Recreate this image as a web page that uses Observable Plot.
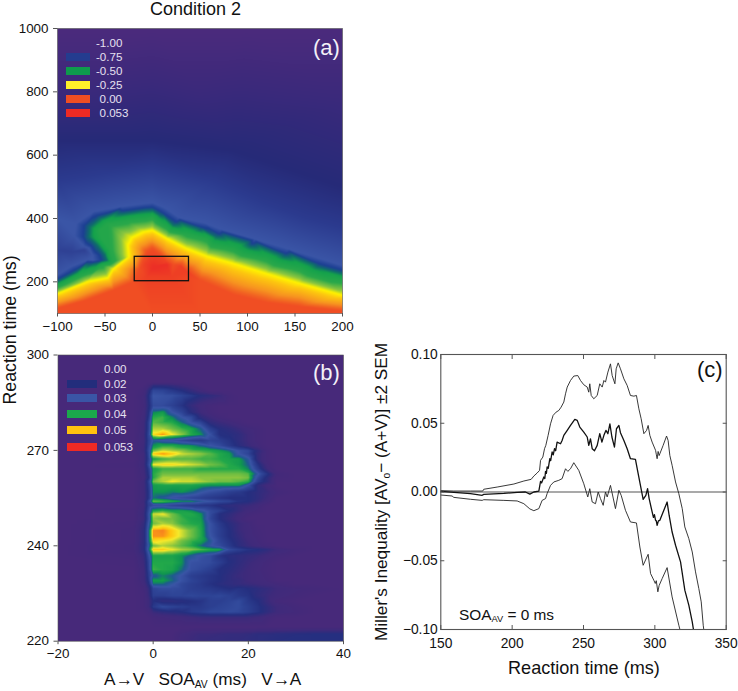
<!DOCTYPE html>
<html><head><meta charset="utf-8">
<script src="https://cdn.jsdelivr.net/npm/d3@7"></script>
<script src="https://cdn.jsdelivr.net/npm/@observablehq/plot@0.6"></script>
<style>
html,body{margin:0;padding:0;background:#fff}
#root{position:relative;width:738px;height:691px;overflow:hidden;font-family:"Liberation Sans",Arial,sans-serif;color:#111}
#root svg{position:absolute;background:transparent}
#root svg image{filter:blur(.5px)}
.t{position:absolute;white-space:nowrap;line-height:1}
.p{position:absolute;filter:blur(.4px)}
sub{font-size:60%;line-height:0;vertical-align:-0.25em}
</style></head><body><div id="root"></div>
<script>
// ---------- Panel (a): iso-value lines, [SOA ms, RT ms]
const aLevelM100 = [[-100,1000],[0,1000],[100,1000],[200,1000]];
const aLevelM096 = [[-100,790],[50,790],[200,770]];
const aLevelM092 = [[-100,647],[0,647],[85,615],[200,500]];
const aLevelM086 = [[-100,521],[-50,545],[0,563],[64,521],[120,447],[160,405],[200,373]];
const aLevelM084 = [[-100,300],[-85,295],[-72,300]];
const aLevelM078 = [[-100,222],[-86,248],[-68,270],[-62,268],[-63,284],[-72,312],[-82,345],[-80,385],[-62,422],[-33,438],[-9,447],[0,450],[14,432],[28,403],[55,386],[72,366],[108,335],[143,304],[178,272],[200,252],[-100,400]];
const aLevelM074 = [[-100,209],[-82,238],[-63,262],[-54,268],[-56,284],[-64,312],[-73,342],[-72,378],[-58,410],[-31,425],[-9,434],[0,436],[11,418],[25,390],[52,373],[70,352],[105,321],[140,290],[175,258],[200,237]];
const aLevelM068 = [[-100,200],[-80,231],[-58,258],[-48,268],[-50,284],[-58,315],[-67,342],[-66,373],[-55,400],[-30,415],[-9,424],[0,426],[8,410],[22,379],[50,363],[67,342],[103,310],[138,279],[173,247],[200,226]];
const aLevelM050 = [[-100,186],[-76,221],[-53,252],[-42,263],[-46,305],[-54,337],[-56,363],[-48,384],[-27,394],[-6,400],[0,405],[15,373],[36,352],[57,337],[85,305],[120,273],[155,242],[200,205]];
const aLevelM025 = [[-100,163],[-69,200],[-41,242],[-25,279],[-26,316],[-21.5,340],[-9,358],[0,363],[15,337],[36,305],[57,281],[85,258],[120,226],[155,195],[200,158]];
const aLevel000 = [[-100,116],[-69,142],[-41,173],[-20,200],[-14,240],[-10,270],[-6,295],[0,305],[8,288],[22,255],[50,205],[85,160],[120,135],[155,122],[200,108],[-100,100],[-50,100],[0,100],[50,100],[100,100],[150,100],[200,100]];
const aLevel025 = [[-8,255],[-3,275],[3,278],[15,262],[30,250],[36,232],[20,215],[-6,215]];
const aLevel053 = [[1,250],[15,255],[0,240]];
const aLevels = [[-1,aLevelM100],[-.96,aLevelM096],[-.92,aLevelM092],[-.86,aLevelM086],[-.84,aLevelM084],[-.78,aLevelM078],[-.74,aLevelM074],[-.68,aLevelM068],[-.5,aLevelM050],[-.25,aLevelM025],[0,aLevel000],[.025,aLevel025],[.053,aLevel053]];
const aBox = [{x1:-18.7,x2:38.4,y1:202,y2:279}];
const aColorDomain = [-1,-.96,-.92,-.86,-.78,-.74,-.68,-.6,-.45,-.33,-.25,-.2,-.1,-.03,0,.053];
const aColorRange = ["#4b2a7c","#3a297b","#262a78","#2b3a8e","#3a55a6","#1c3f93","#0f6e6a","#14a24b","#2aa84a","#8cc63f","#fff200","#fdc70f","#f79420","#f15f22","#f04e23","#ec2f26"];
const aLegendLabels = ["-1.00","-0.75","-0.50","-0.25","0.00","0.053"];
const aLegendColors = [null,"#243c8f","#0e9a4d","#fff02a","#f04e23","#ee2a24"];

// ---------- Panel (b): value (x 1000) per row at each SOA column.
// The reference's tick labels are evenly spaced although they read 300, 270, 240, 220;
// rows are stored on the evenly spaced axis, whose lowest tick is printed as 220.
const bSOA = [-20,-4,-2,-1,0,2,4,6,8,10,12,14,16,18,20,22,24,26,30,34,40];
const bRT = [300,291.5,290.4,288.8,287.2,284.1,282,280.5,278.8,276.8,275,273.1,271.5,269.9,268.9,267.3,265.5,264.2,262.6,261.4,260.2,259,256.9,255,254,252.7,251,250,248.5,247,244.8,243,241.5,240,238.8,236.85,234.75,232.5,230.55,229.05,228,226.5,224.25,222.6,220.8,219.15,217.5,214.5,212.25,210];
const bTicks = [210,240,270,300];
const bTickLabels = ["220","240","270","300"];
const bRows = [
[],[],
[0,0,0,5,14,14,12,8,4],
[0,0,3,14,27,26,22,18,12,6],
[0,0,5,18,31,30,29,26,22,17,14,10,3],
[0,0,4,16,28,28,25,20,12,6,2],
[0,0,5,18,37,39,31,26,16,8,3],
[0,0,6,20,41,42,37,31,27,14,8,3],
[0,0,7,24,43,42,41,36,30,26,14,10,7,3],
[0,0,7,24,46,46,44,42,40,35,24,17,14,10,6,3],
[0,0,8,26,49,52,48,45,41,38,30,18,17,14,8,3],
[0,0,7,24,33,31,30,27,24,22,26,24,20,14,8,3],
[0,1,8,25,38,41,41,39,38,35,31,28,22,16,10,5],
[0,2,9,27,44,47,46,45,43,42,41,39,36,30,27,14,3],
[0,1,7,26,50,52,50,47,46,45,43,41,39,31,26,12,3],
[0,0,7,24,40,42,43,43,43,42,42,41,40,39,33,12,3],
[0,1,8,27,48,49,49,48,47,46,44,43,41,39,35,20,5],
[0,0,7,22,40,42,42,42,42,41,41,41,41,41,37,24,8],
[0,0,6,20,41,44,44,44,44,44,44,44,44,44,43,32,20,4],
[0,0,5,18,41,46,46,46,46,45,45,45,45,45,44,28,15,2],
[0,0,7,24,44,46,48,47,47,46,45,44,44,43,41,24,14],
[0,0,7,22,39,40,40,40,40,39,38,38,38,38,30,14,6],
[0,0,7,20,38,38,37,38,36,32,29,27,24,22,18,14,10,4],
[0,0,7,20,36,34,30,28,26,24,22,20,18,18,18,14,8],
[0,0,8,26,44,43,41,38,38,34,31,28,26,20,18,12,6],
[0,0,7,24,28,29,26,24,22,21,20,16,14,12,10,6],
[0,1,9,27,40,42,40,40,38,33,28,24,18,12,6,3],
[0,1,10,29,47,48,44,41,41,38,28,18,14,8,3],
[0,1,9,28,45,44,44,42,40,39,27,18,12,6],
[0,2,12,31,44,46,45,42,41,40,30,22,16,10,5],
[0,3,14,34,52,52.5,50,47,44,41,30,24,18,10,6,2],
[0,3,14,34,52,52,50,47,44,41,31,24,18,12,6,3],
[0,3,14,34,49,48,47,44,42,40,34,26,20,14,8,4],
[0,4,15,32,44,46,45,43,41,36,32,28,22,15,10,6,3],
[0,4,15,34,50,50,48,46,45,43,41,40,28,24,20,18,14,8,3],
[0,2,11,28,40,40,40,38,34,30,28,20,16,14,12,10,6,3],
[0,1,9,25,41,41,41,38,30,29,28,24,18,14,10,6,3],
[0,0,7,24,42,41,40,36,29,27,24,18,16,12,8,5,2],
[0,0,7,22,34,37,35,30,24,22,20,18,14,10,8,6,3],
[0,0,7,20,39,39,36,30,26,23,20,18,14,12,8,6,4],
[0,0,5,17,36,36,32,27,24,22,19,16,14,12,10,8,6,4],
[0,0,3,12,26,28,28,27,24,23,22,20,18,20,18,15,12,8,5,3],
[0,0,2,10,24,24,26,26,27,26,26,27,25,22,20,14,10,6,3],
[0,0,2,8,18,14,14,16,18,20,24,24,26,28,22,18,10,3],
[0,0,2,8,22,28,26,24,22,22,24,26,27,28,24,20,14,8,3],
[0,0,0,3,10,14,16,18,22,24,27,27,28,27,24,20,14,8,4],
[0,0,0,0,2,4,5,6,8,10,10,10,10,10,10,8,4],
[],
[0,0,0,0,0,0,0,5,8,10,10,11,12,12,13,15,15,16,17,18,18],
[0,0,0,0,0,0,0,6,9,11,12,12,13,13,14,15,16,17,18,18,18]
];
const bColorDomain = [0,8,18,26,31,35,38,41,45,48,50.5,52.5,53];
const bColorRange = ["#47297a","#3f2a7b","#252f80","#2e4496","#3a55a6","#1f5a8f","#0f9550","#22a84a","#8cc63f","#f5ea2b","#ffc20e","#f7801f","#ee2a24"];
const bLegendLabels = ["0.00","0.02","0.03","0.04","0.05","0.053"];
const bLegendColors = [null,"#232d7c","#3a55a6","#1ba84b","#ffc20e","#ee2a24"];

// ---------- Panel (c): Miller's inequality, [RT ms, value]
const cUpper = [[150,.001],[159.1,.0007],[170.8,.0007],[179.4,.0007],[180.1,.002],[189.5,.0036],[201.2,.0058],[208.2,.008],[213.3,.0092],[215.2,.0116],[217.5,.0138],[219.2,.0157],[219.9,.023],[221.5,.0254],[222.7,.0315],[223.6,.0339],[225.2,.0412],[226.9,.0496],[228.7,.0557],[230.8,.0581],[232.7,.0593],[234.3,.0617],[236.2,.0654],[237.4,.0714],[238.6,.0763],[240.9,.0811],[243.2,.0843],[246,.0847],[247.9,.0811],[250.2,.078],[252.6,.0763],[253.7,.0726],[254.4,.0787],[255.4,.0702],[257.2,.0678],[259.6,.0702],[261.4,.0787],[263.1,.0763],[264.3,.0811],[265.4,.0799],[267.1,.0872],[268.9,.0932],[270.1,.0847],[272,.0787],[272.9,.0896],[274.3,.0939],[275.9,.0896],[278.3,.0823],[280.6,.0775],[282.9,.0702],[285.3,.0697],[287.1,.0702],[288.8,.0605],[290.4,.0533],[292.3,.0424],[294.2,.0448],[295.3,.0484],[296.5,.0412],[298.1,.0363],[300.5,.0303],[301,.0275],[301.6,.0242],[302.3,.0295],[303,.0265],[303.5,.0278],[305.8,.0339],[308.2,.0407],[309.3,.0375],[310.5,.0266],[312.1,.0194],[314.5,.0073],[316.8,-.0012],[319.2,-.0121],[321,-.0254],[323.8,-.0339],[326.2,-.0436],[328.5,-.0581],[330.8,-.0702],[332.5,-.0799],[333.9,-.0969],[334.8,-.1041]];
const cMean = [[150,.0005],[170.8,-.0012],[179,-.0024],[180.1,-.0017],[194.2,-.001],[203.5,-.0002],[209.3,0],[212.4,-.0015],[215.2,0],[218.7,.0007],[219.9,.0077],[220.6,.0066],[222.2,.0109],[222.9,.0098],[223.4,.015],[224,.0135],[224.5,.0182],[225.3,.0172],[226.4,.0242],[227,.0228],[228,.0291],[228.8,.027],[229.7,.0315],[230.5,.03],[231.5,.0363],[233.9,.0351],[235,.0375],[236.2,.0412],[238.6,.0448],[240.9,.0484],[243.9,.0528],[245.6,.0521],[247.4,.0472],[250.2,.0436],[252.6,.04],[253.7,.0339],[254.9,.0387],[256.1,.0315],[257.7,.03],[259.6,.0339],[261.4,.0424],[262.9,.0363],[264.3,.0412],[265.7,.0448],[267.1,.0424],[268.5,.0496],[269.9,.04],[271.7,.0327],[273.1,.046],[274.8,.0484],[275.9,.0431],[278.3,.0375],[280.6,.0315],[282.9,.0242],[286.4,.0237],[288.1,.0145],[289.9,.0048],[291.8,-.0053],[293.7,-.0024],[294.9,.0024],[296,-.0048],[298.1,-.0145],[299,-.0185],[299.7,-.0165],[300.5,-.0206],[301,-.021],[301.6,-.0242],[302.5,-.021],[303.5,-.0206],[306.3,-.0133],[308.6,-.0073],[310,-.0169],[312.1,-.0291],[314.5,-.0387],[318,-.0508],[321,-.0714],[323.8,-.0823],[326.2,-.0944],[327.3,-.1017]];
const cLower = [[150,-.0022],[157.9,-.0029],[159.1,-.0039],[170.8,-.0053],[179,-.0061],[180.1,-.0056],[194.2,-.0061],[203.5,-.0065],[208.2,-.0085],[212.4,-.0123],[215.2,-.0136],[218.7,-.0121],[221,-.0061],[223.4,-.0048],[224.5,-.0012],[226.9,.0048],[229.2,.0073],[232.7,.0085],[235,.0097],[237.4,.0169],[239,.015],[240.9,.0169],[243.2,.0213],[246.7,.0157],[250.2,.006],[253,-.0036],[254.4,.0024],[256.1,-.0073],[258.4,-.0085],[260.3,0],[261.9,-.0048],[263.8,-.0097],[265.4,0],[266.6,-.0036],[268.9,.0048],[272.4,-.0121],[274.8,.0012],[276.4,-.0024],[279.4,-.0133],[282.9,-.0218],[287.1,-.0225],[289.5,-.04],[291.8,-.0533],[295.3,-.0453],[297,-.0593],[299.3,-.0642],[300.3,-.0665],[301,-.0645],[302.1,-.0726],[303,-.068],[305.1,-.063],[308.6,-.055],[312.1,-.0763],[316.8,-.0969],[318,-.1017]];

const root = document.getElementById("root");
const font = "13.4px 'Liberation Sans'";
const gray = "#555";

function place(svg, left, top){ svg.style.left = left+"px"; svg.style.top = top+"px"; root.appendChild(svg); }
function text(html, left, top, size, extra={}){
  const d = document.createElement("div"); d.className = "t"; d.innerHTML = html;
  Object.assign(d.style, {left:left+"px", top:top+"px", fontSize:size+"px"}, extra); root.appendChild(d); return d;
}
function legend(labels, colors, xPatch, wPatch, xLabels, ys){
  labels.forEach((l,i)=>{
    text(l, xLabels[i], ys[i]-6, 11.6, {color:"#e6e0f0"});
    if(colors[i]){ const p=document.createElement("div"); p.className="p";
      Object.assign(p.style,{left:xPatch+"px",top:(ys[i]-4.2)+"px",width:wPatch+"px",height:"8.4px",background:colors[i]}); root.appendChild(p); }
  });
}

// Panel a
const aPts = aLevels.flatMap(([v,line]) => line.map(([x,y]) => ({x,y,v})));
place(Plot.plot({
  width:360,height:345,marginLeft:57,marginRight:18,marginTop:28,marginBottom:32,
  style:{font,background:"transparent"},
  x:{domain:[-100,200]}, y:{domain:[100,1000]},
  color:{type:"linear",domain:aColorDomain,range:aColorRange,clamp:true},
  marks:[
    Plot.raster(aPts,{x:"x",y:"y",fill:"v",interpolate:"barycentric"}),
    Plot.rect(aBox,{x1:"x1",x2:"x2",y1:"y1",y2:"y2",stroke:"#111",strokeWidth:1.3,fill:"none"}),
    Plot.frame({stroke:gray,strokeWidth:.6}),
    Plot.axisX({ticks:[-100,-50,0,50,100,150,200],tickSize:3.5,tickPadding:4,stroke:gray,label:null,tickFormat:d3.format("d")}),
    Plot.axisY({ticks:[200,400,600,800,1000],tickSize:4,tickPadding:5,stroke:gray,label:null,tickFormat:d3.format("d")})
  ]
}),0,0);

// Panel b
const bPts = bRT.flatMap((y,r) => bSOA.map((x,c) => ({x,y,v:bRows[r][c] ?? 0})));
place(Plot.plot({
  width:360,height:345,marginLeft:57.5,marginRight:17,marginTop:9.5,marginBottom:49.3,
  style:{font,background:"transparent"},
  x:{domain:[-20,40]},
  y:{domain:[210,300]},
  color:{type:"linear",domain:bColorDomain,range:bColorRange,clamp:true},
  marks:[
    Plot.raster(bPts,{x:"x",y:"y",fill:"v",interpolate:"barycentric"}),
    Plot.frame({stroke:gray,strokeWidth:.6}),
    Plot.axisX({ticks:[-20,0,20,40],tickSize:3.5,tickPadding:4,stroke:gray,label:null,tickFormat:d3.format("d")}),
    Plot.axisY({ticks:bTicks,tickSize:4,tickPadding:5,stroke:gray,label:null,tickFormat:d=>bTickLabels[bTicks.indexOf(d)]})
  ]
}),0,345);

// Panel c
const toObj = a => a.map(([x,y]) => ({x,y}));
const f2 = d3.format(".2f");
place(Plot.plot({
  width:368,height:345,marginLeft:70.3,marginRight:12.3,marginTop:9,marginBottom:61,
  style:{font:"13.8px 'Liberation Sans'",background:"transparent"},
  x:{domain:[150,350]}, y:{domain:[-.1,.1]},
  marks:[
    Plot.ruleY([0],{stroke:gray,strokeWidth:1.1}),
    Plot.line(toObj(cUpper),{x:"x",y:"y",stroke:"#222",strokeWidth:.9,clip:true}),
    Plot.line(toObj(cLower),{x:"x",y:"y",stroke:"#222",strokeWidth:.9,clip:true}),
    Plot.line(toObj(cMean),{x:"x",y:"y",stroke:"#111",strokeWidth:1.3,clip:true}),
    Plot.frame({stroke:gray,strokeWidth:1.1}),
    Plot.axisX({ticks:[150,200,250,300,350],tickSize:-4,tickPadding:12.5,stroke:gray,label:null,tickFormat:d3.format("d")}),
    Plot.axisX({anchor:"top",ticks:[150,200,250,300,350],tickSize:-4,stroke:gray,label:null,tickFormat:()=>""}),
    Plot.axisY({ticks:[-.1,-.05,0,.05,.1],tickSize:-4,tickPadding:7,stroke:gray,label:null,tickFormat:f2}),
    Plot.axisY({anchor:"right",ticks:[-.1,-.05,0,.05,.1],tickSize:-4,stroke:gray,label:null,tickFormat:()=>""})
  ]
}),370,345);

// Legends & text
legend(aLegendLabels,aLegendColors,66,24,[96,96,96,96,99.5,99.5],[43.3,57.3,71,85,98.7,112.7]);
legend(bLegendLabels,bLegendColors,66.7,30,[104,104,104,104,104,104],[369.3,383.7,398.3,413.7,430.3,446.7]);
text("Condition 2",150,0,18);
text("(a)",313,37,22,{color:"#f4f0f8"});
text("(b)",313,362,22,{color:"#f4f0f8"});
text("(c)",697,359,22);
text("Reaction time (ms)",11,329.5,17.8,{transform:"translate(-50%,-50%) rotate(-90deg)"});
text("Miller's Inequality [AV<sub>o</sub>− (A+V)] ±2 SEM",382,492,17.2,{transform:"translate(-50%,-50%) rotate(-90deg)"});
text("Reaction time (ms)",508,659,18.1);
text("A→V &nbsp; SOA<sub>AV</sub> (ms) &nbsp; V→A",104,671,17.2);
text("SOA<sub>AV</sub> = 0 ms",459,607,15.4);
</script></body></html>
